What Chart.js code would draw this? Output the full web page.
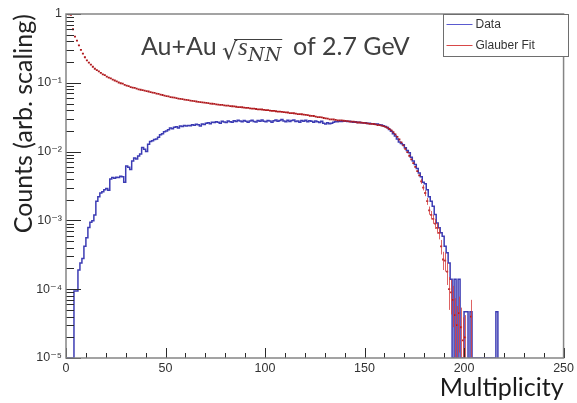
<!DOCTYPE html>
<html>
<head>
<meta charset="utf-8">
<script src="https://cdn.jsdelivr.net/npm/chart.js@4.4.1/dist/chart.umd.min.js"></script>
<style>
  html, body { margin: 0; padding: 0; background: #fff; }
</style>
</head>
<body>
<canvas id="multChart" width="577" height="403"></canvas>
<script>
// Multiplicity histogram, one value per unit bin starting at bin 0
const dataValues = [
  0, 0, 0, 0, 9.4e-5, 9.4e-5, 1.9e-4, 2.4e-4, 2.8e-4, 4.2e-4,
  5.6e-4, 7.9e-4, 9.4e-4, 9.9e-4, 1.2e-3, 1.9e-3, 2.2e-3, 2.5e-3, 2.6e-3, 2.8e-3,
  2.9e-3, 2.75e-3, 4.0e-3, 4.2e-3, 4.1e-3, 4.25e-3, 4.2e-3, 4.4e-3, 4.3e-3, 3.6e-3,
  6.2e-3, 5.9e-3, 5.5e-3, 7.3e-3, 8.1e-3, 7.8e-3, 8.6e-3, 9.2e-3, 1.15e-2, 1.08e-2,
  1.0e-2, 1.28e-2, 1.4e-2, 1.44e-2, 1.5e-2, 1.53e-2, 1.62e-2, 1.76e-2, 1.82e-2, 1.94e-2,
  2.0e-2, 2.08e-2, 2.2e-2, 2.14e-2, 2.25e-2, 2.3e-2, 2.21e-2, 2.36e-2, 2.31e-2, 2.4e-2,
  0.0235, 0.024, 0.0238, 0.0245, 0.0242, 0.025, 0.0246, 0.0236, 0.0252, 0.0248,
  0.0258, 0.0262, 0.0255, 0.0268, 0.0264, 0.0272, 0.0266, 0.0258, 0.0275, 0.027,
  0.0265, 0.0278, 0.0272, 0.0268, 0.0281, 0.0274, 0.0286, 0.0279, 0.0271, 0.0283,
  0.0276, 0.0268, 0.0279, 0.0285, 0.0274, 0.0269, 0.0282, 0.0277, 0.0287, 0.0275,
  0.0271, 0.0284, 0.0278, 0.0266, 0.0281, 0.0289, 0.0276, 0.0283, 0.0292, 0.0279,
  0.0271, 0.0286, 0.0274, 0.0282, 0.0288, 0.0273, 0.0279, 0.0268, 0.0284, 0.0277,
  0.0286, 0.0272, 0.0281, 0.0275, 0.0268, 0.0279, 0.0271, 0.0264, 0.0276, 0.0258,
  0.0252, 0.0262, 0.0255, 0.0259, 0.0268, 0.0273, 0.0271, 0.0276, 0.0274, 0.0279,
  0.0276, 0.0273, 0.0277, 0.0271, 0.0268, 0.0272, 0.0265, 0.0268, 0.0263, 0.0261,
  0.0262, 0.0257, 0.0259, 0.0254, 0.0255, 0.0249, 0.0251, 0.0246, 0.0243, 0.0238,
  0.0232, 0.0224, 0.021, 0.0198, 0.0182, 0.0168, 0.0152, 0.0138, 0.0131, 0.0126,
  0.0114, 0.0104, 0.0096, 0.0083, 0.0073, 0.0065, 0.0057, 0.0049, 0.0043, 0.0036,
  0.0034, 0.0028, 0.0022, 0.0019, 0.0016, 0.00122, 0.00092, 0.00078, 0.00066, 0.00059,
  0.00042, 0.00034, 0.00024, 0.00014, 0, 0.00014, 0, 0.00014, 0, 0,
  4.7e-5, 4.7e-5, 0, 4.7e-5, 0, 0, 0, 0, 0, 0,
  0, 0, 0, 0, 0, 0, 4.7e-5, 0
];

// Glauber fit, same binning
const fitValues = [
  1.0, 0.99, 0.97, 0.6, 0.47, 0.41, 0.35, 0.3, 0.265, 0.235,
  0.212, 0.196, 0.184, 0.171, 0.16, 0.153, 0.147, 0.139, 0.133, 0.129,
  0.123, 0.119, 0.116, 0.111, 0.108, 0.105, 0.101, 0.0985, 0.097, 0.0935,
  0.091, 0.0895, 0.0868, 0.0853, 0.0841, 0.0822, 0.0805, 0.0793, 0.0784, 0.0768,
  0.0758, 0.0748, 0.0731, 0.0721, 0.0712, 0.0697, 0.0688, 0.0674, 0.0665, 0.0651,
  0.064, 0.0634, 0.0621, 0.0616, 0.0609, 0.06, 0.059, 0.0585, 0.058, 0.0571,
  0.0564, 0.056, 0.055, 0.0546, 0.0542, 0.0535, 0.0528, 0.0525, 0.0521, 0.0514,
  0.051, 0.0507, 0.0498, 0.0496, 0.0493, 0.0487, 0.0481, 0.0479, 0.0477, 0.0471,
  0.0467, 0.0465, 0.0458, 0.0456, 0.0454, 0.0449, 0.0443, 0.0442, 0.0441, 0.0435,
  0.0432, 0.0431, 0.0424, 0.0422, 0.0421, 0.0416, 0.0411, 0.041, 0.0409, 0.0404,
  0.0401, 0.04, 0.0393, 0.0392, 0.0391, 0.0386, 0.0381, 0.038, 0.0379, 0.0374,
  0.0371, 0.037, 0.0363, 0.0362, 0.0361, 0.0356, 0.0351, 0.035, 0.0349, 0.0344,
  0.0341, 0.0339, 0.0332, 0.033, 0.0329, 0.0323, 0.0318, 0.0316, 0.0314, 0.0308,
  0.0304, 0.0302, 0.0295, 0.0294, 0.0293, 0.0289, 0.0285, 0.0285, 0.0284, 0.0281,
  0.0279, 0.0278, 0.0273, 0.0273, 0.0272, 0.0269, 0.0265, 0.0265, 0.0264, 0.0261,
  0.0259, 0.0258, 0.0253, 0.0253, 0.0252, 0.0248, 0.0243, 0.0242, 0.0239, 0.0234,
  0.0229, 0.0222, 0.0213, 0.0203, 0.0191, 0.0178, 0.0164, 0.015, 0.0136, 0.0123,
  0.011, 0.0098, 0.0087, 0.0077, 0.0068, 0.006, 0.0052, 0.0045, 0.0037, 0.003,
  0.0025, 0.0019, 0.0014, 0.0012, 0.00105, 0.0009, 0.00078, 0.00066, 0.00042, 0.00027,
  0.00026, 0.00018, 0.0001, 0.00009, 0.00007, 0.000042, 0.00003, 0.000045, 0.000028, 0.000018,
  0.00002, 0, 0, 0.00004
];

// statistical errors on the fit in the falling edge, from bin 178 on
const fitErrStart = 178;
const fitErr = [
  3e-4, 2.7e-4, 2.5e-4, 2.2e-4, 1.9e-4, 1.7e-4, 1.6e-4, 1.5e-4, 1.4e-4, 1.3e-4,
  1.0e-4, 8e-5, 8e-5, 6.5e-5, 5e-5, 4.7e-5, 4.2e-5, 3.2e-5, 2.7e-5, 3.3e-5,
  2.6e-5, 2.1e-5, 2.2e-5, 0, 0, 3e-5
];

const yTicks = [1e-5, 1e-4, 1e-3, 1e-2, 1e-1, 1];
const yTickLabels = ["10\u207B\u2075", "10\u207B\u2074", "10\u207B\u00B3", "10\u207B\u00B2", "10\u207B\u00B9", "1"];
const xTicks = [0, 50, 100, 150, 200, 250];

const Y_MIN = 1e-5;
const Y_MAX = 1;
const dataColor = "#3c3cb4";
const fitColor = "#b01a1e";
const textFont = "Lato";
const tickFont = "'Liberation Sans', 'DejaVu Sans'";

// empty bins sit on the floor of the log axis
const dataPoints = dataValues.map((v, m) => ({ x: m, y: v > 0 ? v : Y_MIN }));
const fitPoints = fitValues.map((v, m) => ({ x: m + 0.5, y: v > 0 ? v : null }));

// ROOT-like frame: inner ticks, error bars, boxed legend and the label
const rootStyle = {
  id: "rootStyle",
  afterDatasetsDraw(chart) {
    const { ctx, chartArea: a, scales: { x, y } } = chart;
    ctx.save();
    ctx.beginPath();
    ctx.rect(a.left, a.top, a.width, a.height);
    ctx.clip();
    ctx.strokeStyle = "rgba(214,60,60,0.8)";
    ctx.lineWidth = 1;
    ctx.beginPath();
    fitErr.forEach((e, i) => {
      const m = fitErrStart + i;
      const v = fitValues[m];
      if (!e || !v) return;
      const px = Math.round(x.getPixelForValue(m + 0.5)) + 0.5;
      const top = y.getPixelForValue(v + e);
      const bot = v - e > 0 ? y.getPixelForValue(v - e) : a.bottom;
      ctx.moveTo(px, top);
      ctx.lineTo(px, bot);
    });
    ctx.stroke();
    ctx.restore();
  },
  afterDraw(chart) {
    const { ctx, chartArea: a, scales: { x, y } } = chart;
    ctx.save();

    // tick marks pointing into the frame
    ctx.strokeStyle = "#2a2a2a";
    ctx.lineWidth = 1;
    ctx.beginPath();
    for (let k = -5; k <= 0; k++) {
      for (let j = 1; j <= 9; j++) {
        const v = j * Math.pow(10, k);
        if (v > Y_MAX * 1.0001) break;
        const py = Math.round(y.getPixelForValue(v)) + 0.5;
        const len = j === 1 ? 15 : 8;
        ctx.moveTo(a.left, py);
        ctx.lineTo(a.left + len, py);
      }
    }
    for (let t = 0; t <= 250; t += 10) {
      const px = Math.round(x.getPixelForValue(t)) + 0.5;
      const len = t % 50 === 0 ? 10 : 5;
      ctx.moveTo(px, a.bottom);
      ctx.lineTo(px, a.bottom - len);
    }
    ctx.stroke();

    // frame
    ctx.strokeStyle = "#858585";
    ctx.lineWidth = 1.5;
    ctx.strokeRect(a.left, a.top, a.right - a.left, a.bottom - a.top);

    // legend box
    const lx = 443.5, ly = a.top + 0.5, lw = 125, lh = 42;
    ctx.fillStyle = "#fff";
    ctx.fillRect(lx, ly, lw, lh);
    ctx.strokeStyle = "#6e6e6e";
    ctx.lineWidth = 1;
    ctx.strokeRect(lx, ly, lw, lh);
    ctx.font = "12px " + tickFont;
    ctx.textBaseline = "middle";
    ctx.textAlign = "left";
    chart.data.datasets.forEach((ds, i) => {
      const ry = ly + 10 + i * 21;
      ctx.strokeStyle = ds.legendColor;
      ctx.beginPath();
      ctx.moveTo(lx + 3, ry);
      ctx.lineTo(lx + 29, ry);
      ctx.stroke();
      ctx.fillStyle = "#333";
      ctx.fillText(ds.label, lx + 32, ry);
    });

    // collision system label with sqrt(s_NN)
    ctx.fillStyle = "#404040";
    ctx.textBaseline = "alphabetic";
    const base = 55;
    ctx.font = "25px " + textFont;
    ctx.fillText("Au+Au", 141, base);
    ctx.font = "24px 'DejaVu Serif'";
    ctx.fillText("\u221A", 222, base + 4);
    ctx.font = "italic 25px 'Liberation Serif'";
    ctx.fillText("s", 238, base);
    ctx.font = "italic 19px 'DejaVu Serif'";
    ctx.fillText("NN", 248, base + 6);
    const nnEnd = 248 + ctx.measureText("NN").width;
    ctx.strokeStyle = "#404040";
    ctx.lineWidth = 1.2;
    ctx.beginPath();
    ctx.moveTo(234, 39.5);
    ctx.lineTo(nnEnd + 1, 39.5);
    ctx.stroke();
    ctx.font = "25px " + textFont;
    ctx.fillText("of 2.7 GeV", Math.max(293, nnEnd + 7), base);

    ctx.restore();
  }
};

new Chart(document.getElementById("multChart"), {
  type: "line",
  data: {
    datasets: [
      {
        label: "Data",
        data: dataPoints,
        stepped: true,
        borderColor: dataColor,
        borderWidth: 1.5,
        pointRadius: 0,
        legendColor: "#5a5ad0",
        order: 1,
      },
      {
        label: "Glauber Fit",
        data: fitPoints,
        showLine: false,
        pointStyle: "line",
        pointRadius: 1,
        pointBorderWidth: 1.8,
        pointBorderColor: fitColor,
        borderColor: fitColor,
        legendColor: "#d84848",
        order: 0,
      },
    ],
  },
  options: {
    responsive: false,
    animation: false,
    events: [],
    layout: { padding: { top: 14, right: 9, left: 0, bottom: 0 } },
    plugins: {
      legend: { display: false },
      tooltip: { enabled: false },
    },
    scales: {
      x: {
        type: "linear",
        min: 0,
        max: 250,
        afterFit: (scale) => { scale.height = 45; },
        afterBuildTicks: (scale) => { scale.ticks = xTicks.map((v) => ({ value: v })); },
        grid: { display: false, drawTicks: false },
        border: { display: false },
        ticks: {
          color: "#333",
          padding: 3,
          maxRotation: 0,
          autoSkip: false,
          font: { family: tickFont, size: 12.5 },
          callback: (v) => String(v),
        },
        title: {
          display: true,
          text: "Multiplicity",
          align: "end",
          color: "#1a1a1a",
          padding: { top: 0, bottom: 0 },
          font: { family: textFont, size: 25, lineHeight: 1.2 },
        },
      },
      y: {
        type: "logarithmic",
        min: Y_MIN,
        max: Y_MAX,
        afterFit: (scale) => { scale.width = 66; },
        afterBuildTicks: (scale) => { scale.ticks = yTicks.map((v) => ({ value: v })); },
        grid: { display: false, drawTicks: false },
        border: { display: false },
        ticks: {
          color: "#333",
          padding: 4,
          autoSkip: false,
          font: { family: tickFont, size: 12.5 },
          callback: (v) => {
            const i = yTicks.findIndex((t) => Math.abs(Math.log10(t) - Math.log10(v)) < 1e-6);
            return i >= 0 ? yTickLabels[i] : "";
          },
        },
        title: {
          display: true,
          text: "Counts (arb. scaling)",
          align: "end",
          color: "#222",
          padding: { top: 9, bottom: 0 },
          font: { family: textFont, size: 25, lineHeight: 1.2 },
        },
      },
    },
  },
  plugins: [rootStyle],
});
</script>
</body>
</html>
